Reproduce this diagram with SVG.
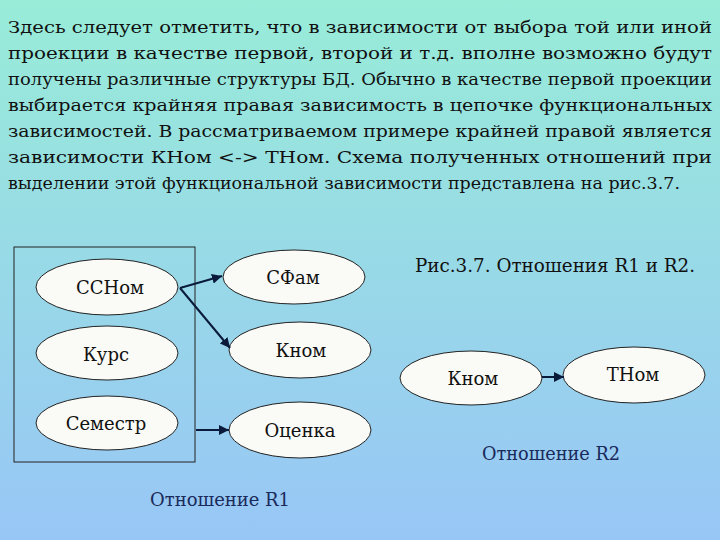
<svg xmlns="http://www.w3.org/2000/svg" width="720" height="540" viewBox="0 0 720 540" font-family="'DejaVu Serif', 'Liberation Serif', serif">
<defs>
<linearGradient id="bg" x1="0" y1="0" x2="0" y2="1"><stop offset="0" stop-color="#98ecd8"/><stop offset="1" stop-color="#98c6f6"/></linearGradient>
<marker id="ar" viewBox="0 0 10 10" refX="10" refY="5" markerWidth="5" markerHeight="5" orient="auto"><path d="M0,0L10,5L0,10z" fill="#0a1a3a"/></marker>
<style>
text{font-family:'DejaVu Serif','Liberation Serif',serif;fill:#111}
.p{font-size:17px}
.n{font-size:18px;text-anchor:middle}
.c{font-size:18px;fill:#1a2a5a}
ellipse{fill:#fafaf6;stroke:#222;stroke-width:1}
.e{stroke:#0a1a3a;stroke-width:2;fill:none;marker-end:url(#ar)}
</style>
</defs>
<rect width="720" height="540" fill="url(#bg)"/>
<g id="paragraph" class="p">
<text x="8" y="33" textLength="704" lengthAdjust="spacingAndGlyphs">Здесь следует отметить, что в зависимости от выбора той или иной</text>
<text x="8" y="59" textLength="704" lengthAdjust="spacingAndGlyphs">проекции в качестве первой, второй и т.д. вполне возможно будут</text>
<text x="8" y="85" textLength="704" lengthAdjust="spacingAndGlyphs">получены различные структуры БД. Обычно в качестве первой проекции</text>
<text x="8" y="111" textLength="704" lengthAdjust="spacingAndGlyphs">выбирается крайняя правая зависимость в цепочке функциональных</text>
<text x="8" y="137" textLength="704" lengthAdjust="spacingAndGlyphs">зависимостей. В рассматриваемом примере крайней правой является</text>
<text x="8" y="163" textLength="704" lengthAdjust="spacingAndGlyphs">зависимости КНом &lt;-&gt; ТНом. Схема полученных отношений при</text>
<text x="8" y="189" textLength="672" lengthAdjust="spacingAndGlyphs">выделении этой функциональной зависимости представлена на рис.3.7.</text>
</g>
<rect id="key-box" x="14" y="247" width="181" height="215" fill="none" stroke="#222" stroke-width="1"/>
<g id="n-ssnom"><ellipse cx="107" cy="287" rx="71" ry="28"/><text class="n" x="110" y="294">ССНом</text></g>
<g id="n-kurs"><ellipse cx="107" cy="353" rx="71" ry="27"/><text class="n" x="106" y="361">Курс</text></g>
<g id="n-sem"><ellipse cx="107" cy="423" rx="71" ry="27"/><text class="n" x="106" y="430">Семестр</text></g>
<g id="n-sfam"><ellipse cx="294" cy="277" rx="71" ry="27"/><text class="n" x="293" y="284">СФам</text></g>
<g id="n-knom1"><ellipse cx="300" cy="350" rx="71" ry="28"/><text class="n" x="301" y="357">Кном</text></g>
<g id="n-ocenka"><ellipse cx="300" cy="430" rx="71" ry="28"/><text class="n" x="300" y="437">Оценка</text></g>
<g id="n-knom2"><ellipse cx="471" cy="378" rx="71" ry="27"/><text class="n" x="473" y="385">Кном</text></g>
<g id="n-tnom"><ellipse cx="634" cy="375" rx="71" ry="28"/><text class="n" x="633" y="381">ТНом</text></g>
<g id="connectors">
<line class="e" x1="180" y1="288" x2="222" y2="276"/>
<line class="e" x1="180" y1="288" x2="230" y2="348"/>
<line class="e" x1="196" y1="430" x2="229" y2="430"/>
<line class="e" x1="542" y1="377" x2="564" y2="377"/>
</g>
<text class="c" x="415" y="272" textLength="280" lengthAdjust="spacingAndGlyphs" style="fill:#111">Рис.3.7. Отношения  R1 и R2.</text>
<text class="c" x="150" y="506" textLength="140" lengthAdjust="spacingAndGlyphs">Отношение R1</text>
<text class="c" x="482" y="460" textLength="138" lengthAdjust="spacingAndGlyphs">Отношение R2</text>
</svg>
